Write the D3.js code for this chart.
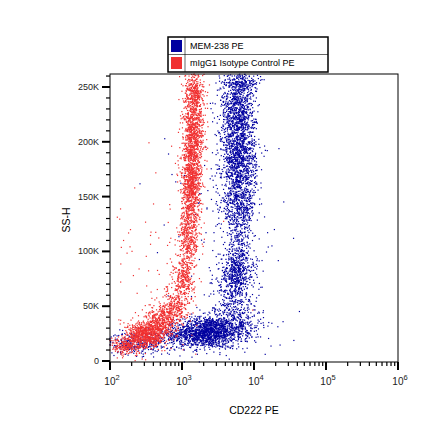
<!DOCTYPE html>
<html><head><meta charset="utf-8">
<script src="https://cdn.jsdelivr.net/npm/d3@7"></script>
<style>body{margin:0;background:#fff}text{font-family:Arial,"Liberation Sans",sans-serif}</style>
</head><body><svg id="c" width="440" height="441"></svg>
<script>
const xTickLabels = ["2","3","4","5","6"];
const yTickValues = [0,50000,100000,150000,200000,250000];
const yTickLabels = ["0","50K","100K","150K","200K","250K"];
const seriesNames = ["MEM-238 PE","mIgG1 Isotype Control PE"];
const seriesColors = ["#0000a0","#f03030"];
// cluster estimates: [CD222 PE, SS-H, count, spread (log decades), spread SS-H]
const blueClusters = [
  [2200,26000,1100,0.2,7000],[5000,32000,500,0.22,9000],[220,16000,250,0.18,5000],[900,22000,250,0.2,6000],
  [5800,80000,450,0.12,11000],[6000,100000,150,0.12,12000],[6200,140000,500,0.12,15000],[6200,185000,1100,0.12,20000],
  [6000,230000,700,0.12,16000],[6500,255000,200,0.12,6000],[5000,60000,200,0.14,10000],[3000,120000,100,0.5,60000]
];
const redClusters = [
  [170,14000,250,0.12,4000],[320,24000,700,0.13,6000],[520,35000,400,0.11,7000],[800,50000,250,0.09,8000],
  [1050,75000,250,0.07,10000],[1250,110000,350,0.07,15000],[1350,160000,900,0.07,20000],[1450,210000,700,0.07,18000],
  [1500,245000,300,0.07,10000],[600,80000,80,0.4,50000]
];
const svg = d3.select("#c");
const L=110,R=398,T=74,B=362;
const x = d3.scaleLog().domain([100,1e6]).range([L,R]);
const y = d3.scaleLinear().domain([0,250000]).range([361,87]);
let s=12345;
function rnd(){s=(s*1664525+1013904223)>>>0;return s/4294967296;}
function gauss(){return Math.sqrt(-2*Math.log(rnd()+1e-12))*Math.cos(2*Math.PI*rnd());}
function gen(cl){const pts=[];cl.forEach(([cx,cy,n,sx,sy])=>{for(let i=0;i<n;i++){const px=Math.pow(10,Math.log10(cx)+gauss()*sx);const py=cy+gauss()*sy;pts.push([px,py]);}});return pts;}
const blue=gen(blueClusters), red=gen(redClusters);
const g=svg.append("g");
function draw(pts,col){g.selectAll(null).data(pts.filter(p=>p[0]>95&&p[0]<1e6&&p[1]>-8000&&p[1]<262000)).enter().append("rect")
 .attr("x",d=>Math.max(L,x(d[0]))-0.6).attr("y",d=>Math.max(T,Math.min(B,y(d[1])))-0.6).attr("width",1.2).attr("height",1.2).attr("fill",col);}
draw(blue,seriesColors[0]);draw(red,seriesColors[1]);
svg.append("rect").attr("x",L).attr("y",T).attr("width",R-L).attr("height",B-T).attr("fill","none").attr("stroke","#000").attr("stroke-width",1);
const ax=svg.append("g");
for(let d=2;d<6;d++){for(let m=1;m<10;m++){const v=m*Math.pow(10,d);ax.append("line").attr("x1",x(v)).attr("x2",x(v)).attr("y1",B).attr("y2",B+(m==1?8:4)).attr("stroke","#000").attr("stroke-width",m==1?2:1.2);}}
ax.append("line").attr("x1",x(1e6)).attr("x2",x(1e6)).attr("y1",B).attr("y2",B+8).attr("stroke","#000").attr("stroke-width",2);
xTickLabels.forEach((t,i)=>{const v=Math.pow(10,+t);const tx=ax.append("text").attr("x",x(v)+2).attr("y",385).attr("text-anchor","middle").attr("font-size",10).attr("fill","#222");tx.append("tspan").text("10");tx.append("tspan").attr("dy",-5).attr("font-size",7.5).text(t);});
for(let v=0;v<=260000;v+=10000){const major=v%50000==0;ax.append("line").attr("x1",L).attr("x2",L-(major?8:4)).attr("y1",y(v)).attr("y2",y(v)).attr("stroke","#000").attr("stroke-width",major?2:1.2);}
yTickValues.forEach((v,i)=>ax.append("text").attr("x",L-11).attr("y",y(v)+3).attr("text-anchor","end").attr("font-size",9).attr("fill","#222").text(yTickLabels[i]));
svg.append("text").attr("transform","translate(70,220) rotate(-90)").attr("text-anchor","middle").attr("font-size",10.5).text("SS-H");
svg.append("text").attr("x",254).attr("y",414).attr("text-anchor","middle").attr("font-size",10.5).text("CD222 PE");
const lg=svg.append("g");
lg.append("rect").attr("x",168).attr("y",37).attr("width",160).attr("height",35).attr("fill","#fff").attr("stroke","#000").attr("stroke-width",1.5);
lg.append("line").attr("x1",168).attr("x2",328).attr("y1",54.5).attr("y2",54.5).attr("stroke","#000").attr("stroke-width",0.6);
lg.append("line").attr("x1",185).attr("x2",185).attr("y1",37).attr("y2",72).attr("stroke","#000").attr("stroke-width",0.6);
seriesNames.forEach((n,i)=>{lg.append("rect").attr("x",171).attr("y",40+i*17).attr("width",11).attr("height",12).attr("fill",seriesColors[i]);
 lg.append("text").attr("x",190).attr("y",49+i*17).attr("font-size",9).text(n);});
</script></body></html>
